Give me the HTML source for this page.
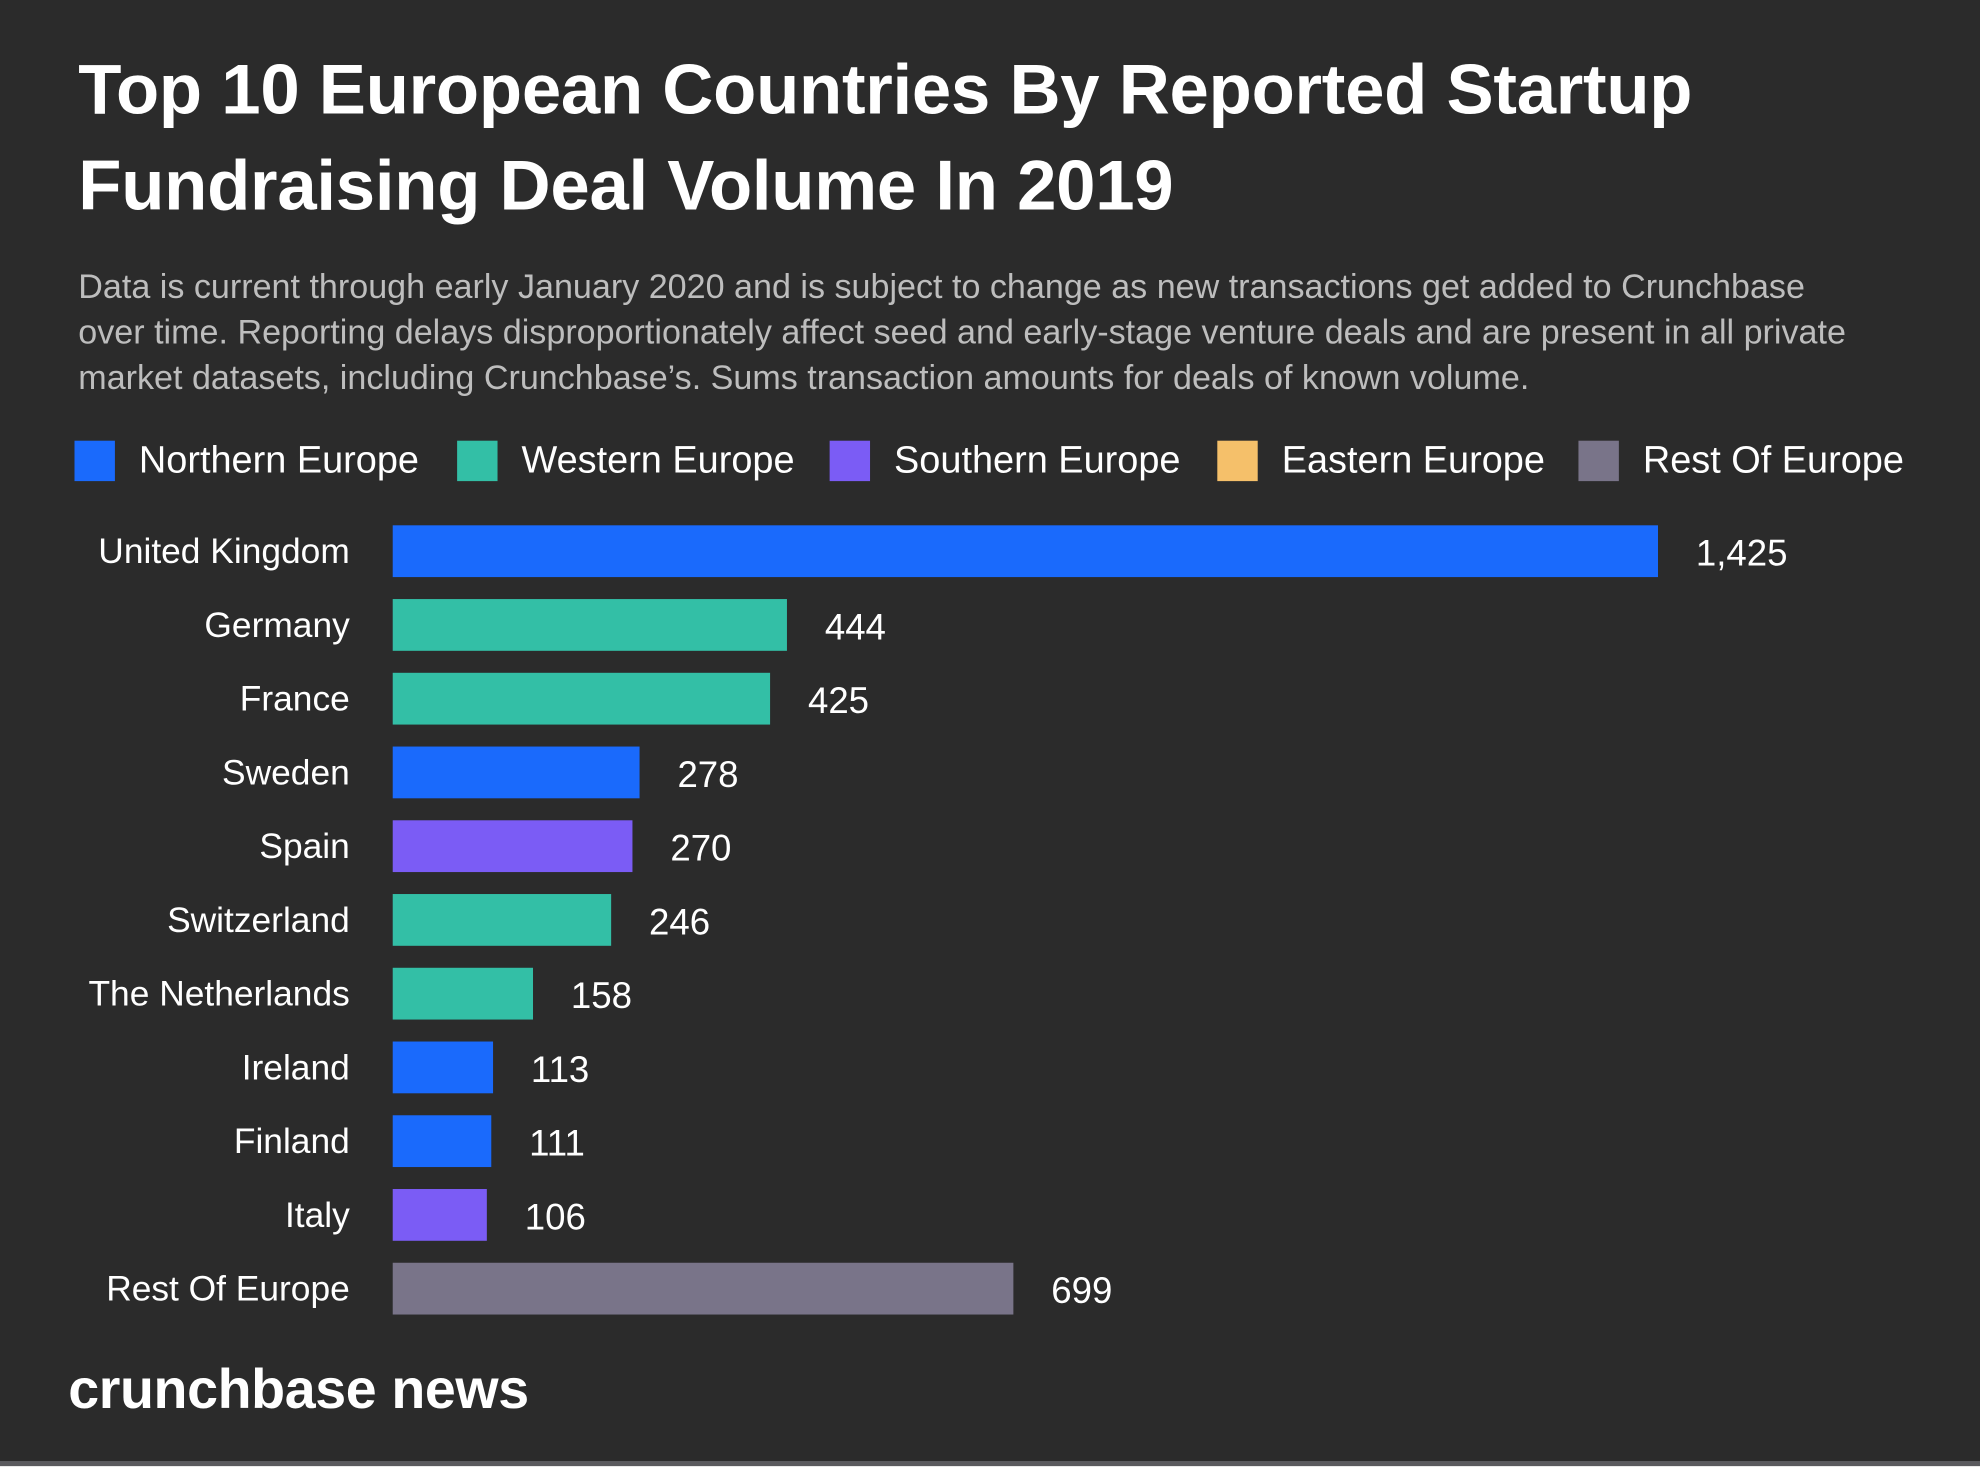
<!DOCTYPE html>
<html><head><meta charset="utf-8">
<style>
html,body{margin:0;padding:0;background:#ffffff;width:1980px;height:1480px;overflow:hidden}
#wrap{position:absolute;left:0;top:0;width:1568px;height:1161px;transform-origin:0 0;transform:scale(1.26276);background:#2b2b2b;font-family:"Liberation Sans",sans-serif;color:#fff}
#title{position:absolute;left:62px;top:33px;font-size:56px;font-weight:bold;line-height:76px;margin:0;letter-spacing:-0.2px}
#sub{position:absolute;left:62px;top:209px;width:1410px;font-size:27px;line-height:36px;color:#bdbdbd}
.leg{position:absolute;top:349px;height:32px;display:flex;align-items:center;font-size:30px}
.leg span.sw{width:32px;height:32px;margin-right:19px;display:inline-block}
#logo{position:absolute;left:54px;top:1076px;font-size:44px;font-weight:bold;letter-spacing:-0.3px}
#bottom{position:absolute;left:0;top:1157px;width:1568px;height:4px;background:#5a5a5e}
</style></head><body>
<div id="wrap">
<h1 id="title">Top 10 European Countries By Reported Startup<br>Fundraising Deal Volume In 2019</h1>
<div id="sub">Data is current through early January 2020 and is subject to change as new transactions get added to Crunchbase<br>over time. Reporting delays disproportionately affect seed and early-stage venture deals and are present in all private<br>market datasets, including Crunchbase’s. Sums transaction amounts for deals of known volume.</div>
<div class="leg" style="left:59px"><span class="sw" style="background:#1a6afc"></span>Northern Europe</div>
<div class="leg" style="left:362px"><span class="sw" style="background:#33bfa6"></span>Western Europe</div>
<div class="leg" style="left:657px"><span class="sw" style="background:#7b5cf5"></span>Southern Europe</div>
<div class="leg" style="left:964px"><span class="sw" style="background:#f5c06a"></span>Eastern Europe</div>
<div class="leg" style="left:1250px"><span class="sw" style="background:#797489"></span>Rest Of Europe</div>
<svg id="plot" width="1568" height="1161" style="position:absolute;left:0;top:0"></svg>
<div id="logo">crunchbase news</div>
<div id="bottom"></div>
</div>
<script>
const countries = ["United Kingdom","Germany","France","Sweden","Spain","Switzerland","The Netherlands","Ireland","Finland","Italy","Rest Of Europe"];
const values = [1425,444,425,278,270,246,158,113,111,106,699];
const regions = ["N","W","W","N","S","W","W","N","N","S","R"];
const regionColors = {N:"#1a6afc",W:"#33bfa6",S:"#7b5cf5",E:"#f5c06a",R:"#797489"};
const svg = document.getElementById('plot');
const NS = "http://www.w3.org/2000/svg";
const x0 = 311, xScale = 1002/1425;
const xPos = v => x0 + v*xScale;
const yPos = i => 416 + i*58.4;
const barH = 41;
countries.forEach((c,i)=>{
  const y = yPos(i);
  const r = document.createElementNS(NS,'rect');
  r.setAttribute('x',x0); r.setAttribute('y',y);
  r.setAttribute('width',xPos(values[i])-x0); r.setAttribute('height',barH);
  r.setAttribute('fill',regionColors[regions[i]]);
  
  
  svg.appendChild(r);
  const l = document.createElementNS(NS,'text');
  l.setAttribute('x',277); l.setAttribute('y',y+30);
  l.setAttribute('text-anchor','end'); l.setAttribute('fill','#fff');
  l.setAttribute('font-size','28'); l.setAttribute('font-family','Liberation Sans, sans-serif');
  l.textContent = c;
  
  
  svg.appendChild(l);
  const v = document.createElementNS(NS,'text');
  v.setAttribute('x',xPos(values[i])+30); v.setAttribute('y',y+32);
  v.setAttribute('fill','#fff');
  v.setAttribute('font-size','29'); v.setAttribute('font-family','Liberation Sans, sans-serif');
  v.textContent = values[i].toLocaleString('en-US');
  
  
  svg.appendChild(v);
});
</script>
</body></html>
